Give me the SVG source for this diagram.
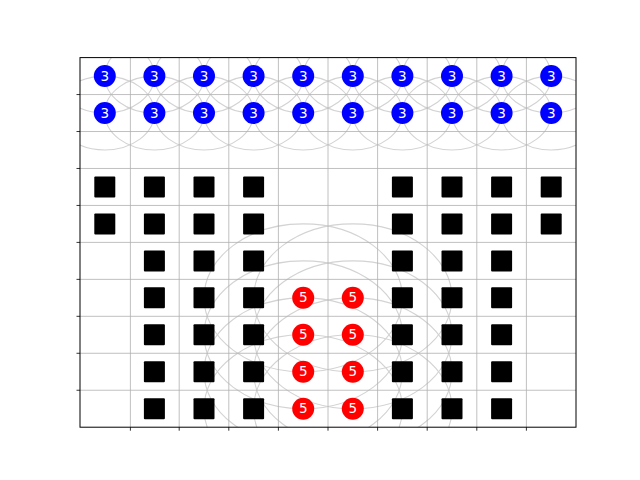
<svg xmlns="http://www.w3.org/2000/svg" width="640" height="480" viewBox="0 0 640 480">
<style>
.grid{stroke:#b0b0b0;stroke-width:0.8;fill:none}
.ring{stroke:#d3d3d3;stroke-width:1.1;fill:none}
.b{fill:#0000ff}
.r{fill:#ff0000}
.sq{fill:#000000}
.lbl{font-family:"DejaVu Sans",sans-serif;font-size:13.5px;fill:#ffffff;text-anchor:middle}
.spine{stroke:#000;stroke-width:1;fill:none}
.tick{stroke:#000;stroke-width:0.8}
</style>
<defs>
<clipPath id="ax"><rect x="80" y="57.6" width="496" height="369.6"/></clipPath>
</defs>
<rect x="0" y="0" width="640" height="480" fill="#ffffff"/>
<g id="rings" clip-path="url(#ax)">
<ellipse class="ring" cx="104.8" cy="76.08" rx="49.6" ry="36.96"/>
<ellipse class="ring" cx="154.4" cy="76.08" rx="49.6" ry="36.96"/>
<ellipse class="ring" cx="204" cy="76.08" rx="49.6" ry="36.96"/>
<ellipse class="ring" cx="253.6" cy="76.08" rx="49.6" ry="36.96"/>
<ellipse class="ring" cx="303.2" cy="76.08" rx="49.6" ry="36.96"/>
<ellipse class="ring" cx="352.8" cy="76.08" rx="49.6" ry="36.96"/>
<ellipse class="ring" cx="402.4" cy="76.08" rx="49.6" ry="36.96"/>
<ellipse class="ring" cx="452" cy="76.08" rx="49.6" ry="36.96"/>
<ellipse class="ring" cx="501.6" cy="76.08" rx="49.6" ry="36.96"/>
<ellipse class="ring" cx="551.2" cy="76.08" rx="49.6" ry="36.96"/>
<ellipse class="ring" cx="104.8" cy="113.04" rx="49.6" ry="36.96"/>
<ellipse class="ring" cx="154.4" cy="113.04" rx="49.6" ry="36.96"/>
<ellipse class="ring" cx="204" cy="113.04" rx="49.6" ry="36.96"/>
<ellipse class="ring" cx="253.6" cy="113.04" rx="49.6" ry="36.96"/>
<ellipse class="ring" cx="303.2" cy="113.04" rx="49.6" ry="36.96"/>
<ellipse class="ring" cx="352.8" cy="113.04" rx="49.6" ry="36.96"/>
<ellipse class="ring" cx="402.4" cy="113.04" rx="49.6" ry="36.96"/>
<ellipse class="ring" cx="452" cy="113.04" rx="49.6" ry="36.96"/>
<ellipse class="ring" cx="501.6" cy="113.04" rx="49.6" ry="36.96"/>
<ellipse class="ring" cx="551.2" cy="113.04" rx="49.6" ry="36.96"/>
<ellipse class="ring" cx="303.2" cy="297.84" rx="99.2" ry="73.92"/>
<ellipse class="ring" cx="352.8" cy="297.84" rx="99.2" ry="73.92"/>
<ellipse class="ring" cx="303.2" cy="334.8" rx="99.2" ry="73.92"/>
<ellipse class="ring" cx="352.8" cy="334.8" rx="99.2" ry="73.92"/>
<ellipse class="ring" cx="303.2" cy="371.76" rx="99.2" ry="73.92"/>
<ellipse class="ring" cx="352.8" cy="371.76" rx="99.2" ry="73.92"/>
<ellipse class="ring" cx="303.2" cy="408.72" rx="99.2" ry="73.92"/>
<ellipse class="ring" cx="352.8" cy="408.72" rx="99.2" ry="73.92"/>
</g>
<g id="grid">
<path class="grid" d="M130.4 57.6V427.2M179.2 57.6V427.2M228.8 57.6V427.2M278.4 57.6V427.2M328 57.6V427.2M377.6 57.6V427.2M427.2 57.6V427.2M476.8 57.6V427.2M526.4 57.6V427.2"/>
<path class="grid" d="M80 94.56H576M80 131.52H576M80 168.48H576M80 205.44H576M80 242.4H576M80 279.36H576M80 316.32H576M80 353.28H576M80 390.24H576"/>
</g>
<g id="blue-nodes">
<g id="b0-0"><circle class="b" cx="104.8" cy="76.08" r="11"/><text class="lbl" x="104.8" y="80.6">3</text></g>
<g id="b0-1"><circle class="b" cx="154.4" cy="76.08" r="11"/><text class="lbl" x="154.4" y="80.6">3</text></g>
<g id="b0-2"><circle class="b" cx="204" cy="76.08" r="11"/><text class="lbl" x="204" y="80.6">3</text></g>
<g id="b0-3"><circle class="b" cx="253.6" cy="76.08" r="11"/><text class="lbl" x="253.6" y="80.6">3</text></g>
<g id="b0-4"><circle class="b" cx="303.2" cy="76.08" r="11"/><text class="lbl" x="303.2" y="80.6">3</text></g>
<g id="b0-5"><circle class="b" cx="352.8" cy="76.08" r="11"/><text class="lbl" x="352.8" y="80.6">3</text></g>
<g id="b0-6"><circle class="b" cx="402.4" cy="76.08" r="11"/><text class="lbl" x="402.4" y="80.6">3</text></g>
<g id="b0-7"><circle class="b" cx="452" cy="76.08" r="11"/><text class="lbl" x="452" y="80.6">3</text></g>
<g id="b0-8"><circle class="b" cx="501.6" cy="76.08" r="11"/><text class="lbl" x="501.6" y="80.6">3</text></g>
<g id="b0-9"><circle class="b" cx="551.2" cy="76.08" r="11"/><text class="lbl" x="551.2" y="80.6">3</text></g>
<g id="b1-0"><circle class="b" cx="104.8" cy="113.04" r="11"/><text class="lbl" x="104.8" y="117.6">3</text></g>
<g id="b1-1"><circle class="b" cx="154.4" cy="113.04" r="11"/><text class="lbl" x="154.4" y="117.6">3</text></g>
<g id="b1-2"><circle class="b" cx="204" cy="113.04" r="11"/><text class="lbl" x="204" y="117.6">3</text></g>
<g id="b1-3"><circle class="b" cx="253.6" cy="113.04" r="11"/><text class="lbl" x="253.6" y="117.6">3</text></g>
<g id="b1-4"><circle class="b" cx="303.2" cy="113.04" r="11"/><text class="lbl" x="303.2" y="117.6">3</text></g>
<g id="b1-5"><circle class="b" cx="352.8" cy="113.04" r="11"/><text class="lbl" x="352.8" y="117.6">3</text></g>
<g id="b1-6"><circle class="b" cx="402.4" cy="113.04" r="11"/><text class="lbl" x="402.4" y="117.6">3</text></g>
<g id="b1-7"><circle class="b" cx="452" cy="113.04" r="11"/><text class="lbl" x="452" y="117.6">3</text></g>
<g id="b1-8"><circle class="b" cx="501.6" cy="113.04" r="11"/><text class="lbl" x="501.6" y="117.6">3</text></g>
<g id="b1-9"><circle class="b" cx="551.2" cy="113.04" r="11"/><text class="lbl" x="551.2" y="117.6">3</text></g>
</g>
<g id="squares">
<g id="s3-0"><rect class="sq" x="94.3" y="176.46" width="21" height="21" rx="1"/></g>
<g id="s3-1"><rect class="sq" x="143.9" y="176.46" width="21" height="21" rx="1"/></g>
<g id="s3-2"><rect class="sq" x="193.5" y="176.46" width="21" height="21" rx="1"/></g>
<g id="s3-3"><rect class="sq" x="243.1" y="176.46" width="21" height="21" rx="1"/></g>
<g id="s3-6"><rect class="sq" x="391.9" y="176.46" width="21" height="21" rx="1"/></g>
<g id="s3-7"><rect class="sq" x="441.5" y="176.46" width="21" height="21" rx="1"/></g>
<g id="s3-8"><rect class="sq" x="491.1" y="176.46" width="21" height="21" rx="1"/></g>
<g id="s3-9"><rect class="sq" x="540.7" y="176.46" width="21" height="21" rx="1"/></g>
<g id="s4-0"><rect class="sq" x="94.3" y="213.42" width="21" height="21" rx="1"/></g>
<g id="s4-1"><rect class="sq" x="143.9" y="213.42" width="21" height="21" rx="1"/></g>
<g id="s4-2"><rect class="sq" x="193.5" y="213.42" width="21" height="21" rx="1"/></g>
<g id="s4-3"><rect class="sq" x="243.1" y="213.42" width="21" height="21" rx="1"/></g>
<g id="s4-6"><rect class="sq" x="391.9" y="213.42" width="21" height="21" rx="1"/></g>
<g id="s4-7"><rect class="sq" x="441.5" y="213.42" width="21" height="21" rx="1"/></g>
<g id="s4-8"><rect class="sq" x="491.1" y="213.42" width="21" height="21" rx="1"/></g>
<g id="s4-9"><rect class="sq" x="540.7" y="213.42" width="21" height="21" rx="1"/></g>
<g id="s5-1"><rect class="sq" x="143.9" y="250.38" width="21" height="21" rx="1"/></g>
<g id="s5-2"><rect class="sq" x="193.5" y="250.38" width="21" height="21" rx="1"/></g>
<g id="s5-3"><rect class="sq" x="243.1" y="250.38" width="21" height="21" rx="1"/></g>
<g id="s5-6"><rect class="sq" x="391.9" y="250.38" width="21" height="21" rx="1"/></g>
<g id="s5-7"><rect class="sq" x="441.5" y="250.38" width="21" height="21" rx="1"/></g>
<g id="s5-8"><rect class="sq" x="491.1" y="250.38" width="21" height="21" rx="1"/></g>
<g id="s6-1"><rect class="sq" x="143.9" y="287.34" width="21" height="21" rx="1"/></g>
<g id="s6-2"><rect class="sq" x="193.5" y="287.34" width="21" height="21" rx="1"/></g>
<g id="s6-3"><rect class="sq" x="243.1" y="287.34" width="21" height="21" rx="1"/></g>
<g id="s6-6"><rect class="sq" x="391.9" y="287.34" width="21" height="21" rx="1"/></g>
<g id="s6-7"><rect class="sq" x="441.5" y="287.34" width="21" height="21" rx="1"/></g>
<g id="s6-8"><rect class="sq" x="491.1" y="287.34" width="21" height="21" rx="1"/></g>
<g id="s7-1"><rect class="sq" x="143.9" y="324.3" width="21" height="21" rx="1"/></g>
<g id="s7-2"><rect class="sq" x="193.5" y="324.3" width="21" height="21" rx="1"/></g>
<g id="s7-3"><rect class="sq" x="243.1" y="324.3" width="21" height="21" rx="1"/></g>
<g id="s7-6"><rect class="sq" x="391.9" y="324.3" width="21" height="21" rx="1"/></g>
<g id="s7-7"><rect class="sq" x="441.5" y="324.3" width="21" height="21" rx="1"/></g>
<g id="s7-8"><rect class="sq" x="491.1" y="324.3" width="21" height="21" rx="1"/></g>
<g id="s8-1"><rect class="sq" x="143.9" y="361.26" width="21" height="21" rx="1"/></g>
<g id="s8-2"><rect class="sq" x="193.5" y="361.26" width="21" height="21" rx="1"/></g>
<g id="s8-3"><rect class="sq" x="243.1" y="361.26" width="21" height="21" rx="1"/></g>
<g id="s8-6"><rect class="sq" x="391.9" y="361.26" width="21" height="21" rx="1"/></g>
<g id="s8-7"><rect class="sq" x="441.5" y="361.26" width="21" height="21" rx="1"/></g>
<g id="s8-8"><rect class="sq" x="491.1" y="361.26" width="21" height="21" rx="1"/></g>
<g id="s9-1"><rect class="sq" x="143.9" y="398.22" width="21" height="21" rx="1"/></g>
<g id="s9-2"><rect class="sq" x="193.5" y="398.22" width="21" height="21" rx="1"/></g>
<g id="s9-3"><rect class="sq" x="243.1" y="398.22" width="21" height="21" rx="1"/></g>
<g id="s9-6"><rect class="sq" x="391.9" y="398.22" width="21" height="21" rx="1"/></g>
<g id="s9-7"><rect class="sq" x="441.5" y="398.22" width="21" height="21" rx="1"/></g>
<g id="s9-8"><rect class="sq" x="491.1" y="398.22" width="21" height="21" rx="1"/></g>
</g>
<g id="red-nodes">
<g id="r6-4"><circle class="r" cx="303.2" cy="297.84" r="11"/><text class="lbl" x="303.2" y="302.4">5</text></g>
<g id="r6-5"><circle class="r" cx="352.8" cy="297.84" r="11"/><text class="lbl" x="352.8" y="302.4">5</text></g>
<g id="r7-4"><circle class="r" cx="303.2" cy="334.8" r="11"/><text class="lbl" x="303.2" y="339.4">5</text></g>
<g id="r7-5"><circle class="r" cx="352.8" cy="334.8" r="11"/><text class="lbl" x="352.8" y="339.4">5</text></g>
<g id="r8-4"><circle class="r" cx="303.2" cy="371.76" r="11"/><text class="lbl" x="303.2" y="376.3">5</text></g>
<g id="r8-5"><circle class="r" cx="352.8" cy="371.76" r="11"/><text class="lbl" x="352.8" y="376.3">5</text></g>
<g id="r9-4"><circle class="r" cx="303.2" cy="408.72" r="11"/><text class="lbl" x="303.2" y="413.3">5</text></g>
<g id="r9-5"><circle class="r" cx="352.8" cy="408.72" r="11"/><text class="lbl" x="352.8" y="413.3">5</text></g>
</g>
<g id="axes">
<rect class="spine" x="80" y="57.6" width="496" height="369.6"/>
<path class="tick" d="M130.4 427.2v3.5M179.2 427.2v3.5M228.8 427.2v3.5M278.4 427.2v3.5M328 427.2v3.5M377.6 427.2v3.5M427.2 427.2v3.5M476.8 427.2v3.5M526.4 427.2v3.5"/>
<path class="tick" d="M80 94.56h-3.5M80 131.52h-3.5M80 168.48h-3.5M80 205.44h-3.5M80 242.4h-3.5M80 279.36h-3.5M80 316.32h-3.5M80 353.28h-3.5M80 390.24h-3.5"/>
</g>
</svg>
